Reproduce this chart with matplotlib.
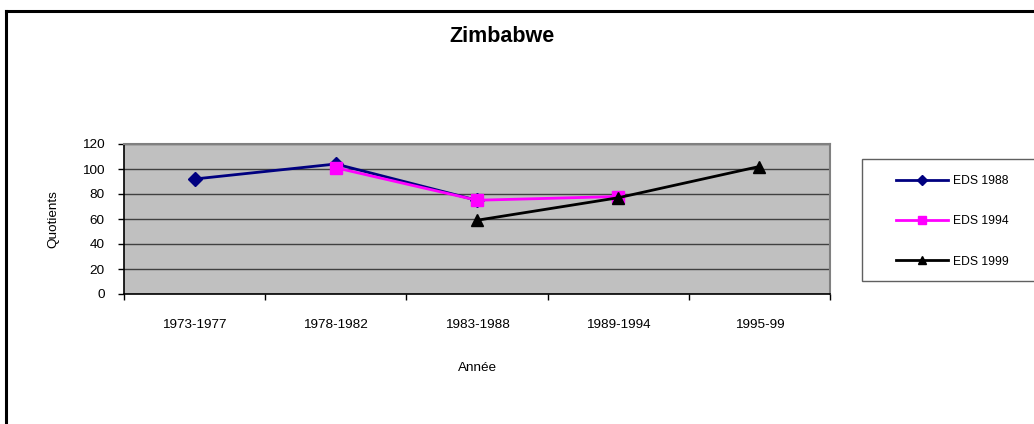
#!/usr/bin/env python3
"""
Zimbabwe - quotients par période, trois enquêtes EDS
"""

import numpy as np
import matplotlib.pyplot as plt
from matplotlib.lines import Line2D
from matplotlib.patches import Rectangle

plt.rcParams['font.family'] = ['Liberation Sans', 'DejaVu Sans']

periods = ['1973-1977', '1978-1982', '1983-1988', '1989-1994', '1995-99']
eds_1988 = [92, 104, 75, np.nan, np.nan]
eds_1994 = [np.nan, 101, 75, 78, np.nan]
eds_1999 = [np.nan, np.nan, 59, 77, 102]
series_names = ['EDS 1988', 'EDS 1994', 'EDS 1999']

W, H = 1034, 424
fig = plt.figure(figsize=(W / 100, H / 100), dpi=100)

# plot area in pixels: x 124..830, y 144..294
ax = fig.add_axes([124 / W, 1 - 294 / H, (830 - 124) / W, (294 - 144) / H])
ax.set_facecolor('#C0C0C0')

x = np.arange(len(periods))
styles = [
    dict(color='#000080', marker='D', markersize=7),
    dict(color='#FF00FF', marker='s', markersize=8),
    dict(color='#000000', marker='^', markersize=8),
]
handles = []
for vals, st, name in zip([eds_1988, eds_1994, eds_1999], styles, series_names):
    v = np.array(vals, dtype=float)
    ok = ~np.isnan(v)
    ax.plot(x[ok], v[ok], linewidth=2, markeredgecolor=st['color'],
            markerfacecolor=st['color'], zorder=3, **st)
    handles.append(Line2D([], [], color=st['color'], linewidth=2, marker=st['marker'],
                          markersize=st['markersize'] * 0.7, markerfacecolor=st['color'],
                          markeredgecolor=st['color']))

ax.set_xlim(-0.5, len(periods) - 0.5)
ax.set_ylim(0, 120)
ax.set_yticks(range(0, 121, 20))
ax.yaxis.grid(True, color='#404040', linewidth=1)
ax.set_axisbelow(True)

fs = 9.7
ax.set_xticks(x)
ax.set_xticklabels(periods, fontsize=fs)
ax.set_xticks(np.arange(-0.5, len(periods)), minor=True)
ax.tick_params(axis='x', which='major', length=0, pad=18)
ax.tick_params(axis='x', which='minor', length=4, width=1, direction='out')
ax.tick_params(axis='y', length=4, width=1, direction='out', labelsize=fs, pad=10)

for side in ['left', 'bottom']:
    ax.spines[side].set_color('black')
    ax.spines[side].set_linewidth(1.2)
for side in ['top', 'right']:
    ax.spines[side].set_color('#808080')
    ax.spines[side].set_linewidth(1.5)

ax.set_ylabel('Quotients', fontsize=fs, labelpad=16)
ax.set_xlabel('Année', fontsize=fs, labelpad=22)

fig.text(502 / W, 1 - 37 / H, 'Zimbabwe', ha='center', va='center',
         fontsize=15.5, fontweight='bold')

# legend frame runs off the right edge of the picture
fig.patches.append(Rectangle((862 / W, 1 - 281 / H), 200 / W, (281 - 159) / H,
                             transform=fig.transFigure, facecolor='white',
                             edgecolor='#606060', linewidth=1))
fig.legend(handles, series_names, loc='upper left',
           bbox_to_anchor=(885 / W, 1 - 164 / H), frameon=False,
           fontsize=8.7, handlelength=4.3, labelspacing=2.35, handletextpad=0.4)

# outer border (top and left only are visible)
fig.add_artist(Line2D([6 / W, 6 / W], [0, 1 - 11 / H], color='black', linewidth=2.2,
                      transform=fig.transFigure))
fig.add_artist(Line2D([6 / W, 1], [1 - 11 / H, 1 - 11 / H], color='black', linewidth=2.2,
                      transform=fig.transFigure))

plt.savefig('out.png', dpi=100)
